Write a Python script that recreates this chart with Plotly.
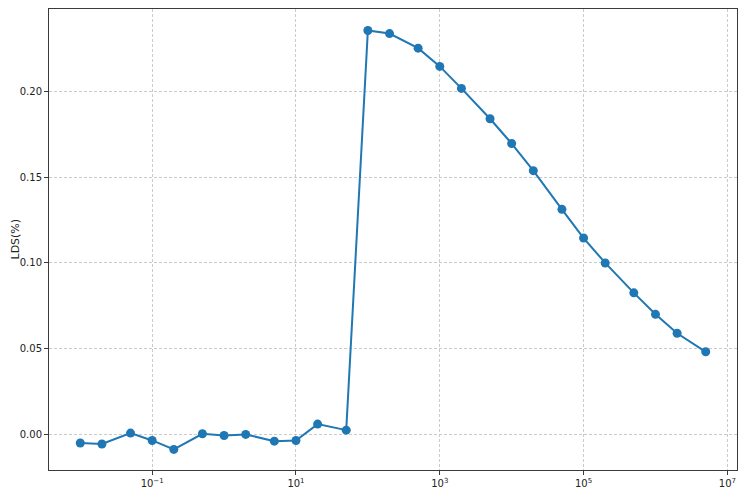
import plotly.graph_objects as go

# flow values (x) and LDS in percent (y)
FLOW = [
    0.01, 0.02, 0.05, 0.1, 0.2, 0.5, 1, 2, 5, 10, 20, 50,
    100, 200, 500, 1e3, 2e3, 5e3, 1e4, 2e4, 5e4, 1e5, 2e5, 5e5, 1e6, 2e6, 5e6,
]
LDS = [
    -0.0048, -0.0054, 0.0010, -0.0033, -0.0085, 0.0006, -0.0004, 0.0002, -0.0037, -0.0033, 0.0062, 0.0027,
    0.2353, 0.2335, 0.2250, 0.2144, 0.2016, 0.1839, 0.1695, 0.1537, 0.1312, 0.1145, 0.1000, 0.0826,
    0.0701, 0.0591, 0.0483,
]
X_TICKS = [1e-1, 1e1, 1e3, 1e5, 1e7]
X_TICK_TEXT = ["10<sup>\u22121</sup>", "10<sup>1</sup>", "10<sup>3</sup>", "10<sup>5</sup>", "10<sup>7</sup>"]
Y_TICKS = [0.0, 0.05, 0.10, 0.15, 0.20]

BLUE = "#1f77b4"
AXIS = "#3a3a3a"
GRID = "rgba(190,190,190,0.8)"

axis_common = {
    "ticks": "outside",
    "ticklen": 4,
    "tickcolor": AXIS,
    "showgrid": True,
    "gridcolor": GRID,
    "griddash": "3px,2px",
    "gridwidth": 0.8,
    "zeroline": False,
    "showline": True,
    "linecolor": AXIS,
    "linewidth": 1,
    "mirror": True,
    "automargin": False,
    "ticklabeloverflow": "allow",
}

fig = go.Figure()
fig.add_trace(
    go.Scatter(
        x=FLOW,
        y=LDS,
        mode="lines+markers",
        line={"color": BLUE, "width": 2},
        marker={"color": BLUE, "size": 9},
        showlegend=False,
    )
)

fig.update_layout(
    width=747,
    height=498,
    paper_bgcolor="white",
    plot_bgcolor="white",
    margin={"l": 49, "r": 10, "t": 9, "b": 28},
    font={"family": "DejaVu Sans", "size": 10, "color": "#222"},
    xaxis={
        **axis_common,
        "type": "log",
        "range": [-2.435, 7.134],
        "tickmode": "array",
        "tickvals": X_TICKS,
        "ticktext": X_TICK_TEXT,
    },
    yaxis={
        **axis_common,
        "range": [-0.0205, 0.2478],
        "tickmode": "array",
        "tickvals": Y_TICKS,
        "tickformat": ".2f",
    },
    annotations=[
        {
            "text": "LDS(%)",
            "xref": "paper",
            "yref": "paper",
            "x": 0,
            "xshift": -34,
            "xanchor": "center",
            "y": 0.5,
            "yanchor": "middle",
            "textangle": -90,
            "showarrow": False,
            "font": {"size": 11, "color": "#222"},
        }
    ],
)

# drop the page's default body margin so the figure sits at the window origin
fig.write_html(
    "out.html",
    config={"displayModeBar": False},
    post_script="document.body.style.margin='0';document.body.style.overflow='hidden';",
)
